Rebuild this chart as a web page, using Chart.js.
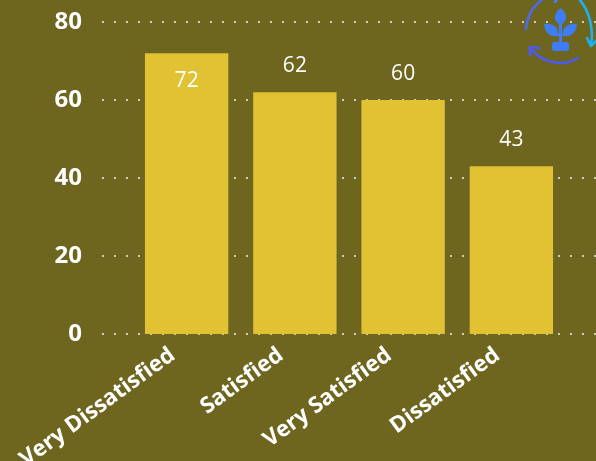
<!DOCTYPE html>
<html>
<head>
<meta charset="utf-8">
<style>
  html, body { margin: 0; padding: 0; background: #6e651e; overflow: hidden; }
  #wrap { position: relative; width: 596px; height: 461px; }
  #logo { position: absolute; left: 496px; top: 0; }
</style>
<script src="https://cdn.jsdelivr.net/npm/chart.js@4"></script>
</head>
<body>
<div id="wrap">
  <canvas id="grafico" width="596" height="461"></canvas>
  <svg id="logo" width="100" height="80" viewBox="0 0 100 80">
    <g fill="none" stroke-width="2.6" stroke-linecap="round" stroke-linejoin="round">
      <path stroke="#4a6cf5" d="M30 29 C31 16 37 6 47 -1"/>
      <path stroke="#3f86f6" d="M59 2 L61 -1"/>
      <path stroke="#1fb0f2" d="M83 -1 C93 10 98 28 95 45"/>
      <path stroke="#1fb0f2" d="M91 38 L95 46 L100 41"/>
      <path stroke="#4a5cf5" d="M35 48 C44 62 66 68 82 58"/>
      <path stroke="#4a5cf5" d="M34 55 L34 47 L44 48"/>
    </g>
    <g fill="#3f7df6">
      <path d="M64.500 8 C72 14 72 21 64.500 25 C57 21 57 14 64.500 8 Z"/>
      <path d="M48 24 C57 23 63 27 62 36 C54 37 49 33 48 24 Z"/>
      <path d="M81 24 C72 23 66 27 67 36 C75 37 80 33 81 24 Z"/>
      <rect x="63" y="24" width="3" height="18"/>
      <rect x="56" y="34" width="17" height="2"/>
      <rect x="56" y="42" width="17" height="9" rx="2.500"/>
    </g>
  </svg>
</div>
<script>
const categorias = ["Very Dissatisfied", "Satisfied", "Very Satisfied", "Dissatisfied"];
const valores = [72, 62, 60, 43];
const ticksY = [0, 20, 40, 60, 80];

/* linhas pontilhadas passam da area das barras, por isso vao num plugin */
const gradePontilhada = {
  id: "gradePontilhada",
  beforeDatasetsDraw(chart) {
    const { ctx, scales } = chart;
    ctx.save();
    ctx.strokeStyle = "#cfcdbb";
    ctx.lineWidth = 2;
    ctx.setLineDash([2, 10]);
    ticksY.forEach(t => {
      const y = Math.round(scales.y.getPixelForValue(t));
      ctx.beginPath();
      ctx.moveTo(102, y);
      ctx.lineTo(596, y);
      ctx.stroke();
    });
    ctx.restore();
  }
};

/* rotulos de valor: o 72 fica dentro da barra, os outros acima */
const rotulos = {
  id: "rotulos",
  afterDatasetsDraw(chart) {
    const { ctx } = chart;
    ctx.save();
    ctx.fillStyle = "#ffffff";
    ctx.font = "21px 'Open Sans'";
    ctx.textAlign = "center";
    ctx.textBaseline = "middle";
    chart.getDatasetMeta(0).data.forEach((bar, i) => {
      const dy = valores[i] === 72 ? 28 : -26;
      ctx.fillText(String(valores[i]), bar.x, bar.y + dy);
    });
    ctx.restore();
  }
};

new Chart(document.getElementById("grafico"), {
  type: "bar",
  data: {
    labels: categorias,
    datasets: [{
      data: valores,
      backgroundColor: "#e1c233",
      borderWidth: 0,
      categoryPercentage: 1,
      barPercentage: 0.77
    }]
  },
  options: {
    responsive: false,
    animation: false,
    layout: { padding: { top: 22, right: 30.5, left: 0, bottom: 0 } },
    plugins: { legend: { display: false }, tooltip: { enabled: false } },
    scales: {
      x: {
        grid: { display: false },
        border: { display: false },
        afterFit(axis) { axis.height = 127; },
        ticks: {
          color: "#ffffff",
          font: { family: "'Open Sans'", size: 22.3, weight: "bold" },
          minRotation: 36,
          maxRotation: 36,
          autoSkip: false,
          padding: 0,
          labelOffset: -14
        }
      },
      y: {
        min: 0,
        max: 80,
        afterFit(axis) { axis.width = 132.5; axis.paddingTop = 0; axis.paddingBottom = 0; },
        afterBuildTicks(axis) { axis.ticks = ticksY.map(v => ({ value: v })); },
        grid: { display: false, drawTicks: false },
        border: { display: false },
        ticks: {
          color: "#ffffff",
          font: { family: "'Open Sans'", size: 24, weight: "bold" },
          padding: 50.5,
          z: 1
        }
      }
    }
  },
  plugins: [gradePontilhada, rotulos]
});
</script>
</body>
</html>
